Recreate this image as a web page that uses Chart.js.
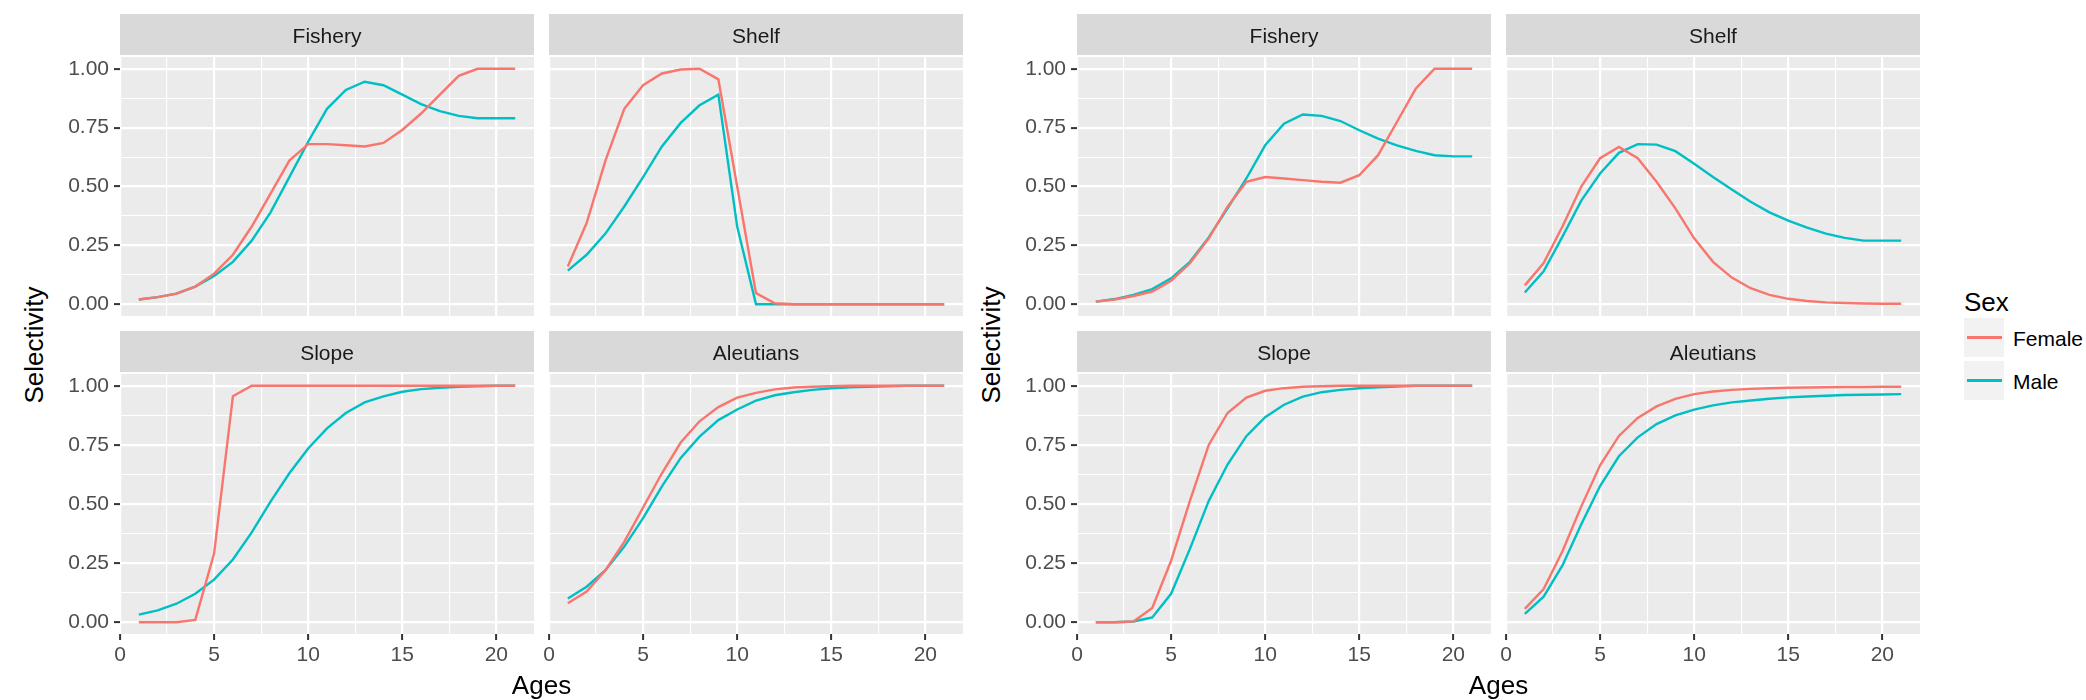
<!DOCTYPE html>
<html>
<head>
<meta charset="utf-8">
<script src="https://cdn.jsdelivr.net/npm/chart.js@4.4.1/dist/chart.umd.min.js"></script>
<style>
  body { margin: 0; background: #fff; width: 2086px; height: 700px; overflow: hidden; position: relative;
         font-family: 'Liberation Sans', Arial, Helvetica, sans-serif; }
  canvas { position: absolute; }
  .ytitle { position: absolute; font-size: 26px; line-height: 26px; color: #000; white-space: nowrap;
            transform: translate(-50%, -50%) rotate(-90deg); }
  .xtitle { position: absolute; font-size: 26px; line-height: 26px; color: #000; white-space: nowrap;
            transform: translateX(-50%); }
  .lgtitle { position: absolute; font-size: 26px; line-height: 26px; color: #000; }
  .lgkey { position: absolute; width: 40px; height: 39px; background: #F2F2F2; }
  .lgline { position: absolute; left: 3px; width: 35px; height: 2.4px; top: 18.3px; }
  .lglabel { position: absolute; font-size: 21px; line-height: 21px; color: #000; }
</style>
</head>
<body>

<script>
const FONT = "'Liberation Sans', Arial, Helvetica, sans-serif";

// data
const ages = [1, 2, 3, 4, 5, 6, 7, 8, 9, 10, 11, 12, 13, 14, 15, 16, 17, 18, 19, 20, 21];
const sexes = ['Female', 'Male'];
const facets = ['Fishery', 'Shelf', 'Slope', 'Aleutians'];

const xMajor = [0, 5, 10, 15, 20];
const xMinor = [2.5, 7.5, 12.5, 17.5];
const xTickLabels = ['0', '5', '10', '15', '20'];
const yMajor = [0, 0.25, 0.5, 0.75, 1];
const yMinor = [0.125, 0.375, 0.625, 0.875];
const yTickLabels = ['0.00', '0.25', '0.50', '0.75', '1.00'];

// left figure
const leftFisheryFemale = [0.02, 0.03, 0.045, 0.075, 0.13, 0.21, 0.33, 0.47, 0.61, 0.68, 0.68, 0.675, 0.67, 0.685, 0.74, 0.81, 0.89, 0.97, 1.0, 1.0, 1.0];
const leftFisheryMale   = [0.02, 0.03, 0.045, 0.075, 0.12, 0.18, 0.27, 0.39, 0.54, 0.69, 0.83, 0.91, 0.945, 0.93, 0.89, 0.85, 0.82, 0.80, 0.79, 0.79, 0.79];
const leftShelfFemale   = [0.16, 0.345, 0.61, 0.83, 0.93, 0.98, 0.997, 1.0, 0.955, 0.50, 0.047, 0.004, 0, 0, 0, 0, 0, 0, 0, 0, 0];
const leftShelfMale     = [0.143, 0.21, 0.30, 0.415, 0.54, 0.67, 0.77, 0.845, 0.89, 0.33, 0, 0, 0, 0, 0, 0, 0, 0, 0, 0, 0];
const leftSlopeFemale   = [0, 0, 0, 0.01, 0.29, 0.956, 1, 1, 1, 1, 1, 1, 1, 1, 1, 1, 1, 1, 1, 1, 1];
const leftSlopeMale     = [0.032, 0.05, 0.078, 0.12, 0.18, 0.265, 0.38, 0.51, 0.63, 0.735, 0.82, 0.885, 0.93, 0.955, 0.975, 0.986, 0.992, 0.996, 0.998, 1.0, 1.0];
const leftAleutFemale   = [0.08, 0.13, 0.22, 0.34, 0.485, 0.63, 0.76, 0.85, 0.91, 0.95, 0.97, 0.985, 0.993, 0.996, 0.998, 1, 1, 1, 1, 1, 1];
const leftAleutMale     = [0.10, 0.15, 0.22, 0.32, 0.44, 0.575, 0.695, 0.785, 0.855, 0.90, 0.937, 0.96, 0.973, 0.983, 0.99, 0.994, 0.996, 0.998, 1, 1, 1];

// right figure
const rightFisheryFemale = [0.011, 0.02, 0.035, 0.054, 0.10, 0.174, 0.28, 0.414, 0.52, 0.54, 0.534, 0.527, 0.52, 0.516, 0.548, 0.633, 0.774, 0.915, 1.0, 1.0, 1.0];
const rightFisheryMale   = [0.011, 0.022, 0.04, 0.064, 0.11, 0.18, 0.284, 0.407, 0.534, 0.675, 0.767, 0.806, 0.80, 0.778, 0.739, 0.703, 0.675, 0.651, 0.633, 0.628, 0.628];
const rightShelfFemale   = [0.08, 0.175, 0.33, 0.50, 0.62, 0.668, 0.62, 0.52, 0.407, 0.28, 0.18, 0.113, 0.068, 0.04, 0.023, 0.014, 0.008, 0.005, 0.003, 0.002, 0.002];
const rightShelfMale     = [0.05, 0.14, 0.287, 0.44, 0.555, 0.643, 0.68, 0.678, 0.65, 0.597, 0.54, 0.487, 0.435, 0.39, 0.355, 0.325, 0.30, 0.282, 0.27, 0.27, 0.27];
const rightSlopeFemale   = [0, 0, 0.003, 0.06, 0.26, 0.513, 0.75, 0.885, 0.95, 0.979, 0.99, 0.996, 0.998, 1, 1, 1, 1, 1, 1, 1, 1];
const rightSlopeMale     = [0, 0, 0.003, 0.02, 0.12, 0.31, 0.513, 0.667, 0.787, 0.867, 0.92, 0.954, 0.973, 0.983, 0.99, 0.994, 0.997, 1, 1, 1, 1];
const rightAleutFemale   = [0.056, 0.14, 0.30, 0.49, 0.664, 0.788, 0.864, 0.913, 0.945, 0.965, 0.976, 0.983, 0.987, 0.99, 0.992, 0.993, 0.994, 0.995, 0.995, 0.996, 0.996];
const rightAleutMale     = [0.035, 0.108, 0.24, 0.414, 0.576, 0.702, 0.782, 0.838, 0.875, 0.899, 0.917, 0.93, 0.938, 0.945, 0.951, 0.955, 0.958, 0.961, 0.962, 0.963, 0.965];

// look
const sexColors = ['#F8766D', '#00BFC4'];
const PANEL_X = [[120, 534], [549, 963], [1077, 1491], [1506, 1920]];
const ROWS = [{ strip: 14, top: 57, bottom: 316 }, { strip: 331, top: 374, bottom: 634 }];
const STRIP_H = 41;

const panels = [
  { col: 0, row: 0, name: facets[0], series: [leftFisheryFemale, leftFisheryMale] },
  { col: 1, row: 0, name: facets[1], series: [leftShelfFemale, leftShelfMale] },
  { col: 0, row: 1, name: facets[2], series: [leftSlopeFemale, leftSlopeMale] },
  { col: 1, row: 1, name: facets[3], series: [leftAleutFemale, leftAleutMale] },
  { col: 2, row: 0, name: facets[0], series: [rightFisheryFemale, rightFisheryMale] },
  { col: 3, row: 0, name: facets[1], series: [rightShelfFemale, rightShelfMale] },
  { col: 2, row: 1, name: facets[2], series: [rightSlopeFemale, rightSlopeMale] },
  { col: 3, row: 1, name: facets[3], series: [rightAleutFemale, rightAleutMale] }
];

// grey panel + facet strip behind everything
const facetBg = {
  id: 'facetBg',
  beforeDraw(chart) {
    const { ctx, chartArea: a } = chart;
    ctx.save();
    ctx.fillStyle = '#D9D9D9';
    ctx.fillRect(a.left, 0, a.right - a.left, STRIP_H);
    ctx.fillStyle = '#EBEBEB';
    ctx.fillRect(a.left, a.top, a.right - a.left, a.bottom - a.top);
    ctx.restore();
  }
};

const tickFont = { family: FONT, size: 21 };

function axis(major, minor, labels, showLabels, min, max, sizeKey, size) {
  const all = major.concat(minor).sort((a, b) => a - b);
  return {
    type: 'linear',
    min: min,
    max: max,
    afterBuildTicks: s => { s.ticks = all.map(v => ({ value: v })); },
    afterFit: s => {
      s[sizeKey] = size;
      s.paddingLeft = 0; s.paddingRight = 0; s.paddingTop = 0; s.paddingBottom = 0;
    },
    border: { display: false },
    grid: {
      color: '#FFFFFF',
      lineWidth: c => (c.tick && major.includes(c.tick.value)) ? 2.2 : 1.1,
      drawTicks: showLabels,
      tickLength: 6,
      tickWidth: 2,
      tickColor: c => (c.tick && major.includes(c.tick.value)) ? '#333333' : 'rgba(0,0,0,0)'
    },
    ticks: {
      display: showLabels,
      autoSkip: false,
      maxRotation: 0,
      padding: sizeKey === 'width' ? 5 : 3,
      color: '#4D4D4D',
      font: tickFont,
      callback: v => { const i = major.indexOf(v); return i >= 0 ? labels[i] : ''; }
    }
  };
}

panels.forEach(p => {
  const [pl, pr] = PANEL_X[p.col];
  const r = ROWS[p.row];
  const showY = p.col % 2 === 0;
  const showX = p.row === 1;
  const yW = showY ? 60 : 12;
  const xH = showX ? 40 : 0;

  const cv = document.createElement('canvas');
  cv.width = pr - pl + yW;
  cv.height = r.bottom - r.strip + xH;
  cv.style.left = (pl - yW) + 'px';
  cv.style.top = r.strip + 'px';
  document.body.appendChild(cv);

  new Chart(cv, {
    type: 'line',
    data: {
      datasets: sexes.map((s, k) => ({
        label: s,
        data: ages.map((a, i) => ({ x: a, y: p.series[k][i] })),
        borderColor: sexColors[k],
        borderWidth: 2.4,
        pointRadius: 0,
        tension: 0,
        fill: false
      }))
    },
    options: {
      responsive: false,
      animation: false,
      devicePixelRatio: 1,
      layout: { padding: 0 },
      plugins: {
        legend: { display: false },
        tooltip: { enabled: false },
        title: {
          display: true,
          text: p.name,
          fullSize: false,
          color: '#1A1A1A',
          font: { family: FONT, size: 21, weight: 'normal' },
          padding: { top: 10.4, bottom: 7.4 }
        }
      },
      scales: {
        x: axis(xMajor, xMinor, xTickLabels, showX, 0, 22, 'height', xH),
        y: axis(yMajor, yMinor, yTickLabels, showY, -0.05, 1.05, 'width', yW)
      }
    },
    plugins: [facetBg]
  });
});

// axis titles
function addText(cls, text, x, y) {
  const d = document.createElement('div');
  d.className = cls;
  d.textContent = text;
  d.style.left = x + 'px';
  d.style.top = y + 'px';
  document.body.appendChild(d);
  return d;
}
addText('ytitle', 'Selectivity', 34, 345);
addText('ytitle', 'Selectivity', 991, 345);
addText('xtitle', 'Ages', (PANEL_X[0][0] + PANEL_X[1][1]) / 2, 672);
addText('xtitle', 'Ages', (PANEL_X[2][0] + PANEL_X[3][1]) / 2, 672);

// legend
addText('lgtitle', 'Sex', 1964, 289);
sexes.forEach((s, k) => {
  const key = addText('lgkey', '', 1964, 318 + k * 43);
  const ln = document.createElement('div');
  ln.className = 'lgline';
  ln.style.background = sexColors[k];
  key.appendChild(ln);
  addText('lglabel', s, 2013, 328 + k * 43);
});
</script>
</body>
</html>
